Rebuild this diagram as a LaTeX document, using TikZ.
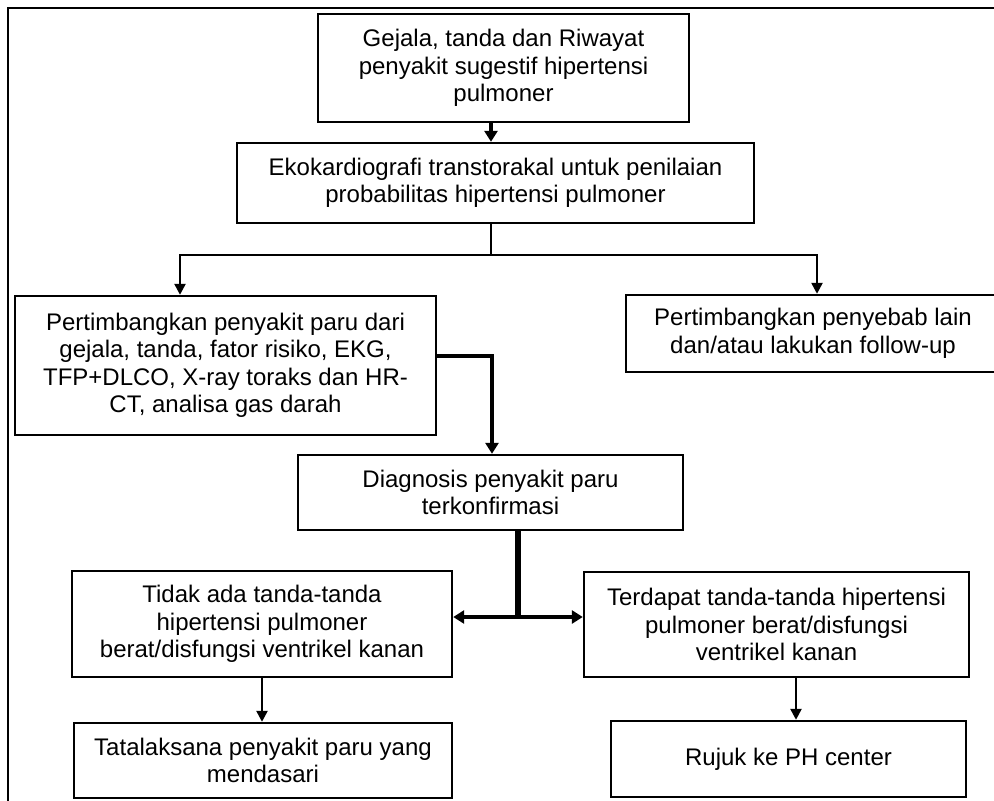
\documentclass[tikz,border=0pt]{standalone}
\usepackage{fontspec}
\setmainfont{Liberation Sans}
\usetikzlibrary{arrows.meta}

\begin{document}
\begin{tikzpicture}[x=1pt, y=-1pt,
    box/.style={draw, line width=2.4pt, align=center, inner sep=2pt,
      font=\fontsize{24}{27.5}\selectfont},
    arr/.style={line width=2.4pt, -{Triangle[length=11pt,width=11pt]}},
    thickarr/.style={line width=3.4pt, -{Triangle[length=11pt,width=13pt]}}]
  \useasboundingbox (0,0) rectangle (994,801);

  % outer frame, cut at the right and at the bottom
  \draw[line width=1.8pt] (8,820) -- (8,8) -- (1010,8);

  % boxes
  \node[box, minimum width=371, minimum height=108] (gejala) at (503.5,68)
    {Gejala, tanda dan Riwayat\\penyakit sugestif hipertensi\\pulmoner};
  \node[box, minimum width=517, minimum height=80] (eko) at (495.5,183)
    {Ekokardiografi transtorakal untuk penilaian\\probabilitas hipertensi pulmoner};
  \node[box, minimum width=421, minimum height=139] (paru) at (225.5,365.5)
    {Pertimbangkan penyakit paru dari\\gejala, tanda, fator risiko, EKG,\\TFP+DLCO, X-ray toraks dan HR-\\CT, analisa gas darah};
  \node[box, minimum width=374, minimum height=77] (lain) at (813,333.5)
    {Pertimbangkan penyebab lain\\dan/atau lakukan follow-up};
  \node[box, minimum width=385, minimum height=75] (diag) at (490.5,492.5)
    {Diagnosis penyakit paru\\terkonfirmasi};
  \node[box, minimum width=380, minimum height=106] (tidak) at (262,624)
    {Tidak ada tanda-tanda\\hipertensi pulmoner\\berat/disfungsi ventrikel kanan};
  \node[box, minimum width=385, minimum height=105] (terdapat) at (776.5,624.5)
    {Terdapat tanda-tanda hipertensi\\pulmoner berat/disfungsi\\ventrikel kanan};
  \node[box, minimum width=378, minimum height=75] (tata) at (263,760.5)
    {Tatalaksana penyakit paru yang\\mendasari};
  \node[box, minimum width=355, minimum height=76] (rujuk) at (788.5,759)
    {Rujuk ke PH center};

  % joints of the connectors
  \coordinate (trunk) at (491,255);
  \coordinate (jL) at (180,255);
  \coordinate (jR) at (817,255);
  \coordinate (bend) at (492,356);
  \coordinate (fork) at (518,617);
  \coordinate (jT) at (796,0);

  % connectors
  \draw[thickarr] (gejala.south -| trunk) -- (eko.north -| trunk);
  \draw[line width=2.4pt] (eko.south -| trunk) -- (trunk);
  \draw[arr] (trunk) -- (jL) -- (jL |- paru.north);
  \draw[arr] (trunk) -- (jR) -- (jR |- lain.north);
  \draw[thickarr] (bend -| paru.east) -- (bend) -- (bend |- diag.north);
  \draw[line width=5.5pt] (diag.south -| fork) -- (fork);
  \draw[thickarr] (fork) -- (fork -| tidak.east);
  \draw[thickarr] (fork) -- (fork -| terdapat.west);
  \draw[arr] (tidak.south) -- (tidak.south |- tata.north);
  \draw[arr] (terdapat.south -| jT) -- (rujuk.north -| jT);
\end{tikzpicture}
\end{document}
